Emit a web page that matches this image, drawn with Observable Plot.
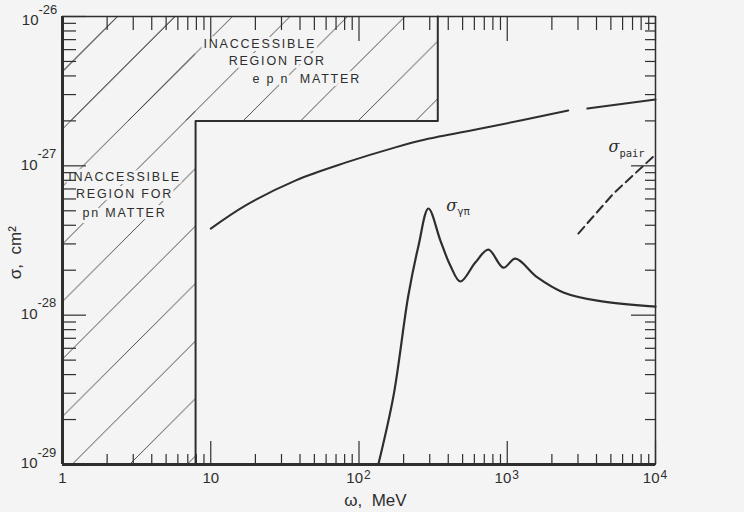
<!DOCTYPE html>
<html><head><meta charset="utf-8">
<script src="https://cdn.jsdelivr.net/npm/d3@7"></script>
<script src="https://cdn.jsdelivr.net/npm/@observablehq/plot@0.6"></script>
<style>
html,body{margin:0;padding:0;background:#f4f4f4;}
#chart svg{display:block;overflow:visible;}
</style></head><body><div id="chart"></div>
<script>
const INK = "#2e2e2e";
const BG = "#f4f4f4";

// Upper solid curve (omega in MeV, sigma in cm^2), drawn in two pieces with a gap near 3 GeV
const upperEnergy = [10, 17.1, 37.2, 81, 176, 280, 734, 2580, 3470, 10000];
const upperSigma  = [3.80e-28, 5.42e-28, 7.97e-28, 1.05e-27, 1.33e-27, 1.50e-27, 1.81e-27, 2.35e-27, 2.42e-27, 2.78e-27];
const upperPiece  = [1, 1, 1, 1, 1, 1, 1, 1, 2, 2];

// sigma_gamma-pi
const pionEnergy = [135, 171, 215, 252, 294, 354, 413, 483, 609, 746, 942, 1135, 1597, 2390, 4055, 10000];
const pionSigma  = [1e-29, 2.89e-29, 1.35e-28, 2.92e-28, 5.18e-28, 3.16e-28, 2.15e-28, 1.68e-28, 2.25e-28, 2.75e-28, 2.08e-28, 2.39e-28, 1.79e-28, 1.42e-28, 1.25e-28, 1.14e-28];

// sigma_pair (dashed)
const pairEnergy = [3015, 5200, 10000];
const pairSigma  = [3.52e-28, 6.52e-28, 1.19e-27];

// Inaccessible regions
const pnEnergyLimit = 7.9;      // MeV
const epnEnergyLimit = 340;     // MeV
const epnSigmaLimit = 2e-27;    // cm^2
const xDomain = [1, 1e4];
const yDomain = [1e-29, 1e-26];

// Ticks and labels
const xMajor = [1, 10, 100, 1000, 10000];
const xMinor = [2,3,4,5,6,7,8,9, 20,30,40,50,60,70,80,90, 200,300,400,500,600,700,800,900, 2000,3000,4000,5000,6000,7000,8000,9000];
const xPlainLabels = [1, 10];
const xPlainText = ["1", "10"];
const xPowLabels = [100, 1000, 10000];
const xPowExp = ["2", "3", "4"];
const yMajor = [1e-29, 1e-28, 1e-27, 1e-26];
const yExp = ["-29", "-28", "-27", "-26"];
const yMinor = [2,3,4,5,6,7,8,9].flatMap(m => [1e-29, 1e-28, 1e-27].map(d => m * d));

// Text labels
const epnText = ["INACCESSIBLE", "REGION FOR", "e p n\u00A0 MATTER"];
const epnX = [8.93, 13.2, 19.1];
const epnY = [6.59e-27, 5.0e-27, 3.79e-27];
const pnText = ["INACCESSIBLE", "REGION FOR", "pn MATTER"];
const pnX = [2.62, 2.62, 2.62];
const pnY = [8.47e-28, 6.43e-28, 4.8e-28];
const curveLabelX = [388, 4810];
const curveLabelY = [5.42e-28, 1.33e-27];
const curveSub = ["\u03B3\u03C0", "pair"];
const yTitle = "\u03C3,\u00A0 cm\u00B2";
const yTitleAt = [2.62e-28];
const xTitle = "\u03C9,\u00A0 MeV";
const xTitleAt = [129];

const upper = upperEnergy.map((x, i) => ({x, y: upperSigma[i], piece: upperPiece[i]}));
const pion = pionEnergy.map((x, i) => ({x, y: pionSigma[i]}));
const pair = pairEnergy.map((x, i) => ({x, y: pairSigma[i]}));
const regions = [
  {x1: xDomain[0], x2: pnEnergyLimit, y1: yDomain[0], y2: yDomain[1]},
  {x1: xDomain[0], x2: epnEnergyLimit, y1: epnSigmaLimit, y2: yDomain[1]}
];
const boundary = [[pnEnergyLimit, yDomain[0]], [pnEnergyLimit, epnSigmaLimit], [epnEnergyLimit, epnSigmaLimit], [epnEnergyLimit, yDomain[1]]];
const epnLabels = epnText.map((t, i) => ({t, x: epnX[i], y: epnY[i]}));
const pnLabels = pnText.map((t, i) => ({t, x: pnX[i], y: pnY[i]}));
const curveLabels = curveSub.map((s, i) => ({s, x: curveLabelX[i], y: curveLabelY[i]}));
const yLower = yMajor.slice(0, 3), yLowerExp = yExp.slice(0, 3);
const yTop = yMajor.slice(3), yTopExp = yExp.slice(3);

const FONT = "Liberation Sans, Arial, sans-serif";
const tickOpts = {tickFormat: () => "", label: null, stroke: INK, strokeWidth: 1.2};

const svg = Plot.plot({
  width: 744, height: 512,
  marginLeft: 62, marginRight: 89, marginTop: 16, marginBottom: 48,
  style: {background: BG, fontFamily: FONT, overflow: "visible", color: INK},
  x: {type: "log", domain: xDomain},
  y: {type: "log", domain: yDomain},
  marks: [
    Plot.rect(regions, {x1: "x1", x2: "x2", y1: "y1", y2: "y2", fill: "url(#hatch)"}),
    Plot.line(boundary, {stroke: INK, strokeWidth: 2}),
    Plot.line(upper, {x: "x", y: "y", z: "piece", curve: "catmull-rom", stroke: INK, strokeWidth: 2}),
    Plot.line(pion, {x: "x", y: "y", curve: "catmull-rom", stroke: INK, strokeWidth: 2.2}),
    Plot.line(pair, {x: "x", y: "y", stroke: INK, strokeWidth: 2, strokeDasharray: "9,5"}),
    Plot.text(epnLabels, {x: "x", y: "y", text: "t", textAnchor: "start", fontSize: 12.5, fill: INK, stroke: BG, strokeWidth: 6, paintOrder: "stroke"}),
    Plot.text(pnLabels, {x: "x", y: "y", text: "t", textAnchor: "middle", fontSize: 12.5, fill: INK, stroke: BG, strokeWidth: 6, paintOrder: "stroke"}),
    Plot.text(curveLabels, {x: "x", y: "y", text: () => "\u03C3", textAnchor: "start", fontSize: 16, fontStyle: "italic", fill: INK, fontFamily: "DejaVu Serif, serif"}),
    Plot.text(curveLabels, {x: "x", y: "y", text: "s", textAnchor: "start", fontSize: 10.5, dx: 11, dy: 6, fill: INK, fontFamily: "DejaVu Sans Mono, monospace"}),
    // frame
    Plot.ruleX([xDomain[0]], {stroke: INK, strokeWidth: 3}),
    Plot.ruleY([yDomain[0]], {stroke: INK, strokeWidth: 3}),
    Plot.ruleX([xDomain[1]], {stroke: INK, strokeWidth: 1.5}),
    Plot.ruleY([yDomain[1]], {stroke: INK, strokeWidth: 1.5}),
    // inward ticks
    Plot.axisX(xMajor, {anchor: "bottom", tickSize: -23, ...tickOpts}),
    Plot.axisX(xMinor, {anchor: "bottom", tickSize: -10, ...tickOpts}),
    Plot.axisX(xMajor, {anchor: "top", tickSize: -24, ...tickOpts}),
    Plot.axisX(xMinor, {anchor: "top", tickSize: -13, ...tickOpts}),
    Plot.axisY(yMajor, {anchor: "left", tickSize: -24, ...tickOpts}),
    Plot.axisY(yMinor, {anchor: "left", tickSize: -14, ...tickOpts}),
    Plot.axisY(yMajor, {anchor: "right", tickSize: -25, ...tickOpts}),
    Plot.axisY(yMinor, {anchor: "right", tickSize: -11, ...tickOpts}),
    // tick labels
    Plot.text(xPlainLabels, {x: d => d, text: (d, i) => xPlainText[i], frameAnchor: "bottom", lineAnchor: "middle", textAnchor: "middle", dy: 14, fontSize: 15, fill: INK}),
    Plot.text(xPowLabels, {x: d => d, text: () => "10", frameAnchor: "bottom", lineAnchor: "middle", dy: 14, dx: 4, textAnchor: "end", fontSize: 15, fill: INK}),
    Plot.text(xPowLabels, {x: d => d, text: (d, i) => xPowExp[i], frameAnchor: "bottom", lineAnchor: "middle", dy: 11, dx: 5, textAnchor: "start", fontSize: 12, fill: INK}),
    Plot.text(yLower, {y: d => d, text: () => "10", frameAnchor: "left", lineAnchor: "middle", dx: -25, dy: -1, textAnchor: "end", fontSize: 15, fill: INK}),
    Plot.text(yLower, {y: d => d, text: (d, i) => yLowerExp[i], frameAnchor: "left", lineAnchor: "middle", dx: -25, dy: -12, textAnchor: "start", fontSize: 13, fill: INK}),
    Plot.text(yTop, {y: d => d, text: () => "10", frameAnchor: "left", lineAnchor: "middle", dx: -24, dy: 4, textAnchor: "end", fontSize: 15, fill: INK}),
    Plot.text(yTop, {y: d => d, text: (d, i) => yTopExp[i], frameAnchor: "left", lineAnchor: "middle", dx: -24, dy: -7, textAnchor: "start", fontSize: 13, fill: INK}),
    // axis titles
    Plot.text(yTitleAt, {y: d => d, text: () => yTitle, frameAnchor: "left", textAnchor: "middle", lineAnchor: "middle", rotate: -90, dx: -47, fontSize: 17, fill: INK}),
    Plot.text(xTitleAt, {x: d => d, text: () => xTitle, frameAnchor: "bottom", textAnchor: "middle", lineAnchor: "middle", dy: 36, fontSize: 17, fill: INK})
  ]
});

// hatch pattern definition
const ns = "http://www.w3.org/2000/svg";
const defs = document.createElementNS(ns, "defs");
const pat = document.createElementNS(ns, "pattern");
const s = 57.5;
pat.setAttribute("id", "hatch");
pat.setAttribute("patternUnits", "userSpaceOnUse");
pat.setAttribute("x", "19");
pat.setAttribute("y", "0");
pat.setAttribute("width", s);
pat.setAttribute("height", s);
const path = document.createElementNS(ns, "path");
path.setAttribute("d", `M0,${s} L${s},0 M-5,5 L5,-5 M${s-5},${s+5} L${s+5},${s-5}`);
path.setAttribute("stroke", "#3a3a3a");
path.setAttribute("stroke-width", "0.9");
path.setAttribute("fill", "none");
pat.appendChild(path);
defs.appendChild(pat);
svg.insertBefore(defs, svg.firstChild);

const regionTexts = new Set([...epnText, ...pnText]);
svg.querySelectorAll("text").forEach(t => {
  if (regionTexts.has(t.textContent)) t.setAttribute("letter-spacing", "1.8");
});

document.getElementById("chart").appendChild(svg);
</script></body></html>
